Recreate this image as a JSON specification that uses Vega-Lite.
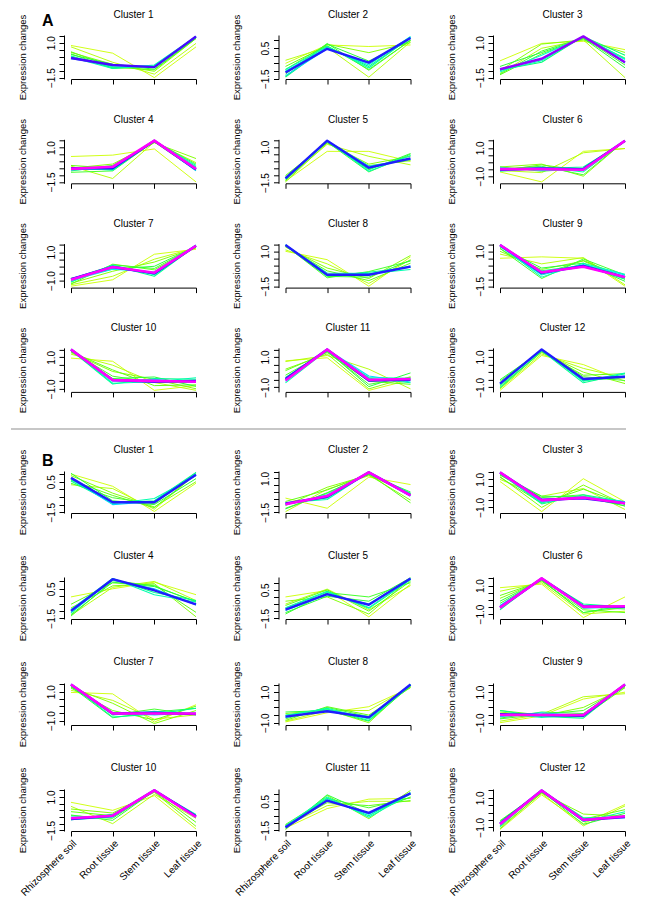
{
"$schema":"https://vega.github.io/schema/vega-lite/v6.json",
"background":"white",
"padding":{"left":10,"top":10,"right":5,"bottom":5},
"config":{
 "view":{"stroke":null},
 "font":"Liberation Sans",
 "axis":{"domainColor":"#000","tickColor":"#000","labelColor":"#000","titleColor":"#000","grid":false,"labelFont":"Liberation Sans","titleFont":"Liberation Sans","labelFontSize":10,"titleFontSize":9.5,"titleFontWeight":"normal","tickSize":5,"domainWidth":1,"tickWidth":1},
 "axisY":{"labelAngle":-90,"offset":7,"labelPadding":3,"titlePadding":19,"labelAlign":"center","labelBaseline":"bottom"},
 "axisX":{"offset":0,"labelFontSize":10},
 "title":{"fontSize":10,"fontWeight":"normal","font":"Liberation Sans","offset":-6,"color":"#000"}
},
"data":{"values":[
{"p":"A1","m":0.32,"a":0.8,"b":0.25,"c":-1.5,"d":0.7},
{"p":"A1","m":0.36,"a":0.7,"b":-0.4,"c":-1.25,"d":0.95},
{"p":"A1","m":0.42,"a":0.3,"b":-0.55,"c":-1.05,"d":1.3},
{"p":"A1","m":0.46,"a":0.35,"b":-0.75,"c":-0.95,"d":1.3},
{"p":"A1","m":0.5,"a":0.2,"b":-0.85,"c":-0.7,"d":1.35},
{"p":"A1","m":0.53,"a":0.15,"b":-0.55,"c":-0.9,"d":1.35},
{"p":"A1","m":0.58,"a":0.05,"b":-0.8,"c":-0.65,"d":1.4},
{"p":"A1","m":0.63,"a":-0.05,"b":-0.85,"c":-0.6,"d":1.45},
{"p":"A1","m":0.66,"a":0.0,"b":-0.7,"c":-0.75,"d":1.45},
{"p":"A1","m":0.75,"a":-0.15,"b":-0.6,"c":-0.7,"d":1.45},
{"p":"A1","m":0.88,"a":-0.1,"b":-0.6,"c":-0.75,"d":1.45},
{"p":"A2","m":0.32,"a":-0.5,"b":0.7,"c":0.6,"d":0.7},
{"p":"A2","m":0.36,"a":-0.3,"b":0.55,"c":-1.4,"d":0.9},
{"p":"A2","m":0.42,"a":-0.9,"b":0.75,"c":0.2,"d":0.85},
{"p":"A2","m":0.46,"a":-0.7,"b":0.65,"c":-0.9,"d":1.0},
{"p":"A2","m":0.5,"a":-1.2,"b":0.8,"c":-0.95,"d":1.0},
{"p":"A2","m":0.53,"a":-1.35,"b":0.75,"c":-0.35,"d":1.0},
{"p":"A2","m":0.58,"a":-1.4,"b":0.6,"c":-0.7,"d":1.15},
{"p":"A2","m":0.63,"a":-0.9,"b":0.6,"c":-0.8,"d":1.2},
{"p":"A2","m":0.66,"a":-1.0,"b":0.5,"c":-0.6,"d":1.25},
{"p":"A2","m":0.74,"a":-1.3,"b":0.45,"c":-0.5,"d":1.2},
{"p":"A2","m":0.82,"a":-1.1,"b":0.45,"c":-0.45,"d":1.15},
{"p":"A3","m":0.32,"a":-0.3,"b":0.95,"c":1.1,"d":0.5},
{"p":"A3","m":0.36,"a":-1.2,"b":0.6,"c":1.2,"d":-1.5},
{"p":"A3","m":0.42,"a":-1.0,"b":0.9,"c":1.2,"d":0.3},
{"p":"A3","m":0.46,"a":-1.3,"b":0.2,"c":1.3,"d":-0.1},
{"p":"A3","m":0.5,"a":-1.25,"b":0.4,"c":1.35,"d":-0.6},
{"p":"A3","m":0.53,"a":-0.7,"b":0.3,"c":1.3,"d":-0.8},
{"p":"A3","m":0.58,"a":-0.95,"b":-0.4,"c":1.45,"d":0.1},
{"p":"A3","m":0.63,"a":-1.0,"b":-0.3,"c":1.45,"d":-0.15},
{"p":"A3","m":0.66,"a":-1.1,"b":0.1,"c":1.4,"d":-0.2},
{"p":"A3","m":0.76,"a":-0.9,"b":-0.2,"c":1.45,"d":-0.45},
{"p":"A3","m":0.92,"a":-0.9,"b":-0.15,"c":1.45,"d":-0.4},
{"p":"A4","m":0.32,"a":0.35,"b":0.45,"c":0.9,"d":-1.5},
{"p":"A4","m":0.36,"a":-0.35,"b":-1.25,"c":1.4,"d":-0.1},
{"p":"A4","m":0.42,"a":-0.5,"b":-0.2,"c":1.35,"d":0.2},
{"p":"A4","m":0.46,"a":-0.3,"b":-0.5,"c":1.4,"d":-0.65},
{"p":"A4","m":0.5,"a":-0.8,"b":-0.7,"c":1.45,"d":-0.2},
{"p":"A4","m":0.53,"a":-0.7,"b":-0.3,"c":1.45,"d":-0.45},
{"p":"A4","m":0.6,"a":-0.6,"b":-0.6,"c":1.5,"d":-0.3},
{"p":"A4","m":0.63,"a":-0.45,"b":-0.65,"c":1.5,"d":-0.4},
{"p":"A4","m":0.7,"a":-0.65,"b":-0.45,"c":1.5,"d":-0.7},
{"p":"A4","m":0.82,"a":-0.5,"b":-0.5,"c":1.5,"d":-0.6},
{"p":"A4","m":0.97,"a":-0.55,"b":-0.4,"c":1.5,"d":-0.55},
{"p":"A5","m":0.32,"a":-1.4,"b":0.7,"c":0.7,"d":0.0},
{"p":"A5","m":0.36,"a":-1.3,"b":1.2,"c":0.35,"d":-0.25},
{"p":"A5","m":0.42,"a":-1.45,"b":1.3,"c":-0.2,"d":0.35},
{"p":"A5","m":0.46,"a":-1.0,"b":1.3,"c":-0.3,"d":0.05},
{"p":"A5","m":0.5,"a":-1.1,"b":1.35,"c":-0.75,"d":0.5},
{"p":"A5","m":0.53,"a":-1.35,"b":1.4,"c":-0.6,"d":0.55},
{"p":"A5","m":0.6,"a":-1.25,"b":1.4,"c":-0.55,"d":0.4},
{"p":"A5","m":0.63,"a":-1.15,"b":1.45,"c":-0.7,"d":0.4},
{"p":"A5","m":0.7,"a":-1.2,"b":1.45,"c":-0.35,"d":0.15},
{"p":"A5","m":0.82,"a":-1.2,"b":1.45,"c":-0.45,"d":0.2},
{"p":"A6","m":0.32,"a":-0.7,"b":-1.4,"c":0.75,"d":0.95},
{"p":"A6","m":0.36,"a":-0.6,"b":-0.75,"c":0.65,"d":0.95},
{"p":"A6","m":0.42,"a":-0.35,"b":-0.15,"c":-1.0,"d":1.5},
{"p":"A6","m":0.46,"a":-0.6,"b":-0.2,"c":-0.6,"d":1.45},
{"p":"A6","m":0.5,"a":-0.5,"b":-0.3,"c":-0.9,"d":1.5},
{"p":"A6","m":0.53,"a":-0.35,"b":-0.65,"c":-0.45,"d":1.45},
{"p":"A6","m":0.6,"a":-0.65,"b":-0.45,"c":-0.35,"d":1.45},
{"p":"A6","m":0.63,"a":-0.6,"b":-0.35,"c":-0.7,"d":1.5},
{"p":"A6","m":0.7,"a":-0.4,"b":-0.6,"c":-0.5,"d":1.5},
{"p":"A6","m":0.82,"a":-0.55,"b":-0.45,"c":-0.5,"d":1.5},
{"p":"A6","m":0.97,"a":-0.5,"b":-0.5,"c":-0.55,"d":1.5},
{"p":"A7","m":0.32,"a":-1.4,"b":-0.95,"c":0.85,"d":1.2},
{"p":"A7","m":0.36,"a":-1.3,"b":-0.7,"c":0.5,"d":1.3},
{"p":"A7","m":0.42,"a":-1.2,"b":-0.35,"c":0.3,"d":1.3},
{"p":"A7","m":0.46,"a":-1.25,"b":0.15,"c":-0.25,"d":1.35},
{"p":"A7","m":0.5,"a":-1.1,"b":0.1,"c":-0.15,"d":1.4},
{"p":"A7","m":0.53,"a":-0.85,"b":-0.2,"c":0.0,"d":1.4},
{"p":"A7","m":0.6,"a":-0.9,"b":0.05,"c":-0.7,"d":1.45},
{"p":"A7","m":0.63,"a":-1.1,"b":0.1,"c":-0.6,"d":1.45},
{"p":"A7","m":0.7,"a":-1.0,"b":-0.2,"c":-0.4,"d":1.5},
{"p":"A7","m":0.82,"a":-0.9,"b":-0.05,"c":-0.5,"d":1.45},
{"p":"A7","m":0.97,"a":-0.95,"b":-0.05,"c":-0.45,"d":1.45},
{"p":"A8","m":0.32,"a":1.0,"b":0.4,"c":-1.5,"d":0.6},
{"p":"A8","m":0.36,"a":1.1,"b":0.1,"c":-1.3,"d":0.4},
{"p":"A8","m":0.42,"a":1.3,"b":-0.2,"c":-0.95,"d":0.7},
{"p":"A8","m":0.46,"a":1.35,"b":-0.4,"c":-1.1,"d":0.15},
{"p":"A8","m":0.5,"a":1.4,"b":-0.9,"c":-0.45,"d":0.3},
{"p":"A8","m":0.53,"a":1.4,"b":-0.8,"c":-0.85,"d":0.35},
{"p":"A8","m":0.6,"a":1.45,"b":-0.75,"c":-0.5,"d":-0.15},
{"p":"A8","m":0.63,"a":1.45,"b":-0.55,"c":-0.6,"d":-0.3},
{"p":"A8","m":0.7,"a":1.45,"b":-0.7,"c":-0.65,"d":-0.05},
{"p":"A8","m":0.82,"a":1.45,"b":-0.68,"c":-0.68,"d":-0.1},
{"p":"A9","m":0.32,"a":0.5,"b":0.6,"c":0.5,"d":-1.5},
{"p":"A9","m":0.36,"a":0.8,"b":0.1,"c":0.55,"d":-1.4},
{"p":"A9","m":0.42,"a":1.0,"b":-0.3,"c":0.3,"d":-1.0},
{"p":"A9","m":0.46,"a":1.2,"b":-0.65,"c":0.35,"d":-0.9},
{"p":"A9","m":0.5,"a":1.2,"b":-0.95,"c":0.45,"d":-0.7},
{"p":"A9","m":0.53,"a":1.3,"b":-0.2,"c":0.15,"d":-1.15},
{"p":"A9","m":0.6,"a":1.4,"b":-0.4,"c":0.0,"d":-1.0},
{"p":"A9","m":0.63,"a":1.4,"b":-0.85,"c":0.15,"d":-0.65},
{"p":"A9","m":0.7,"a":1.35,"b":-0.7,"c":0.05,"d":-0.7},
{"p":"A9","m":0.82,"a":1.45,"b":-0.55,"c":-0.05,"d":-0.85},
{"p":"A9","m":0.97,"a":1.45,"b":-0.5,"c":-0.1,"d":-0.85},
{"p":"A10","m":0.32,"a":0.95,"b":0.75,"c":-1.1,"d":-0.8},
{"p":"A10","m":0.36,"a":1.2,"b":0.5,"c":-0.6,"d":-1.1},
{"p":"A10","m":0.42,"a":1.3,"b":0.1,"c":-0.4,"d":-1.0},
{"p":"A10","m":0.46,"a":1.35,"b":0.2,"c":-0.8,"d":-0.75},
{"p":"A10","m":0.5,"a":1.4,"b":-0.2,"c":-0.6,"d":-0.6},
{"p":"A10","m":0.53,"a":1.45,"b":-0.35,"c":-0.25,"d":-0.85},
{"p":"A10","m":0.6,"a":1.45,"b":-0.7,"c":-0.35,"d":-0.4},
{"p":"A10","m":0.63,"a":1.5,"b":-0.65,"c":-0.55,"d":-0.3},
{"p":"A10","m":0.72,"a":1.5,"b":-0.5,"c":-0.4,"d":-0.6},
{"p":"A10","m":0.85,"a":1.5,"b":-0.45,"c":-0.55,"d":-0.5},
{"p":"A10","m":0.97,"a":1.5,"b":-0.45,"c":-0.5,"d":-0.55},
{"p":"A11","m":0.32,"a":0.75,"b":0.95,"c":-1.2,"d":-0.5},
{"p":"A11","m":0.36,"a":0.7,"b":1.1,"c":0.2,"d":-1.1},
{"p":"A11","m":0.42,"a":0.2,"b":1.2,"c":-1.1,"d":-0.3},
{"p":"A11","m":0.46,"a":0.1,"b":1.3,"c":-0.6,"d":-0.8},
{"p":"A11","m":0.5,"a":-0.2,"b":1.35,"c":-0.8,"d":-0.35},
{"p":"A11","m":0.53,"a":-0.4,"b":1.4,"c":-0.95,"d":-0.05},
{"p":"A11","m":0.6,"a":-0.35,"b":1.45,"c":-0.4,"d":-0.7},
{"p":"A11","m":0.63,"a":-0.7,"b":1.45,"c":-0.35,"d":-0.4},
{"p":"A11","m":0.72,"a":-0.6,"b":1.5,"c":-0.25,"d":-0.65},
{"p":"A11","m":0.85,"a":-0.45,"b":1.5,"c":-0.55,"d":-0.5},
{"p":"A11","m":0.97,"a":-0.55,"b":1.5,"c":-0.5,"d":-0.45},
{"p":"A12","m":0.32,"a":-1.2,"b":1.1,"c":0.5,"d":-0.6},
{"p":"A12","m":0.36,"a":-1.1,"b":1.2,"c":0.25,"d":-0.4},
{"p":"A12","m":0.42,"a":-0.9,"b":1.3,"c":0.0,"d":-0.75},
{"p":"A12","m":0.46,"a":-1.05,"b":1.35,"c":-0.2,"d":-0.1},
{"p":"A12","m":0.5,"a":-0.6,"b":1.45,"c":-0.3,"d":-0.55},
{"p":"A12","m":0.53,"a":-0.5,"b":1.4,"c":-0.55,"d":-0.35},
{"p":"A12","m":0.6,"a":-1.0,"b":1.4,"c":-0.7,"d":-0.1},
{"p":"A12","m":0.63,"a":-0.85,"b":1.5,"c":-0.6,"d":-0.05},
{"p":"A12","m":0.7,"a":-0.75,"b":1.5,"c":-0.5,"d":-0.25},
{"p":"A12","m":0.82,"a":-0.75,"b":1.5,"c":-0.45,"d":-0.3},
{"p":"B1","m":0.32,"a":1.0,"b":0.2,"c":-1.45,"d":0.4},
{"p":"B1","m":0.36,"a":0.3,"b":0.05,"c":-1.3,"d":1.0},
{"p":"B1","m":0.42,"a":0.9,"b":-0.25,"c":-1.15,"d":0.5},
{"p":"B1","m":0.46,"a":0.6,"b":-0.4,"c":-1.2,"d":1.0},
{"p":"B1","m":0.5,"a":0.4,"b":-0.55,"c":-0.95,"d":1.1},
{"p":"B1","m":0.53,"a":1.05,"b":-0.75,"c":-1.0,"d":0.7},
{"p":"B1","m":0.6,"a":0.55,"b":-0.9,"c":-0.75,"d":1.1},
{"p":"B1","m":0.63,"a":0.65,"b":-0.95,"c":-0.6,"d":0.9},
{"p":"B1","m":0.72,"a":0.7,"b":-1.0,"c":-0.8,"d":1.0},
{"p":"B1","m":0.82,"a":0.75,"b":-0.85,"c":-0.85,"d":0.95},
{"p":"B2","m":0.32,"a":-0.45,"b":-1.2,"c":1.1,"d":0.55},
{"p":"B2","m":0.36,"a":-1.45,"b":0.2,"c":1.2,"d":-0.1},
{"p":"B2","m":0.42,"a":-1.0,"b":0.35,"c":1.25,"d":-0.6},
{"p":"B2","m":0.46,"a":-0.7,"b":0.15,"c":1.35,"d":-0.8},
{"p":"B2","m":0.5,"a":-1.2,"b":-0.1,"c":1.4,"d":-0.1},
{"p":"B2","m":0.53,"a":-1.25,"b":-0.05,"c":1.3,"d":0.0},
{"p":"B2","m":0.6,"a":-0.85,"b":-0.45,"c":1.45,"d":-0.15},
{"p":"B2","m":0.63,"a":-0.8,"b":-0.55,"c":1.45,"d":-0.1},
{"p":"B2","m":0.72,"a":-0.95,"b":-0.2,"c":1.45,"d":-0.3},
{"p":"B2","m":0.85,"a":-0.85,"b":-0.35,"c":1.45,"d":-0.25},
{"p":"B2","m":0.97,"a":-0.9,"b":-0.3,"c":1.45,"d":-0.25},
{"p":"B3","m":0.32,"a":0.85,"b":-1.3,"c":1.05,"d":-0.6},
{"p":"B3","m":0.36,"a":1.0,"b":-0.2,"c":0.35,"d":-1.15},
{"p":"B3","m":0.42,"a":1.2,"b":-1.0,"c":0.6,"d":-0.8},
{"p":"B3","m":0.46,"a":1.15,"b":-0.7,"c":0.3,"d":-0.75},
{"p":"B3","m":0.5,"a":1.3,"b":-0.3,"c":-0.1,"d":-0.9},
{"p":"B3","m":0.53,"a":1.35,"b":-0.2,"c":-0.25,"d":-0.9},
{"p":"B3","m":0.6,"a":1.45,"b":-0.75,"c":-0.1,"d":-0.6},
{"p":"B3","m":0.63,"a":1.45,"b":-0.65,"c":-0.2,"d":-0.6},
{"p":"B3","m":0.72,"a":1.5,"b":-0.6,"c":-0.3,"d":-0.6},
{"p":"B3","m":0.85,"a":1.5,"b":-0.45,"c":-0.35,"d":-0.7},
{"p":"B3","m":0.97,"a":1.5,"b":-0.5,"c":-0.3,"d":-0.7},
{"p":"B4","m":0.32,"a":-0.05,"b":0.5,"c":0.95,"d":0.1},
{"p":"B4","m":0.36,"a":-1.3,"b":0.6,"c":1.0,"d":-0.3},
{"p":"B4","m":0.42,"a":-0.8,"b":0.7,"c":0.85,"d":-1.4},
{"p":"B4","m":0.46,"a":-0.55,"b":0.9,"c":0.75,"d":-1.1},
{"p":"B4","m":0.5,"a":-1.35,"b":1.05,"c":0.7,"d":-0.4},
{"p":"B4","m":0.53,"a":-1.25,"b":0.95,"c":0.65,"d":-0.35},
{"p":"B4","m":0.6,"a":-1.15,"b":1.2,"c":0.25,"d":-0.3},
{"p":"B4","m":0.63,"a":-0.9,"b":1.2,"c":0.1,"d":-0.4},
{"p":"B4","m":0.72,"a":-1.1,"b":1.1,"c":0.5,"d":-0.6},
{"p":"B4","m":0.82,"a":-1.0,"b":1.15,"c":0.4,"d":-0.55},
{"p":"B5","m":0.32,"a":0.0,"b":0.45,"c":-1.4,"d":0.9},
{"p":"B5","m":0.36,"a":-0.5,"b":0.55,"c":-0.9,"d":0.8},
{"p":"B5","m":0.42,"a":-0.3,"b":0.0,"c":-1.2,"d":1.3},
{"p":"B5","m":0.46,"a":-0.6,"b":0.5,"c":-1.0,"d":1.1},
{"p":"B5","m":0.5,"a":-1.2,"b":0.3,"c":0.0,"d":1.0},
{"p":"B5","m":0.53,"a":-1.1,"b":0.05,"c":-0.3,"d":1.35},
{"p":"B5","m":0.6,"a":-0.75,"b":0.4,"c":-0.8,"d":1.2},
{"p":"B5","m":0.63,"a":-0.8,"b":0.35,"c":-0.75,"d":1.25},
{"p":"B5","m":0.72,"a":-0.95,"b":0.15,"c":-0.5,"d":1.3},
{"p":"B5","m":0.82,"a":-0.9,"b":0.2,"c":-0.55,"d":1.3},
{"p":"B6","m":0.32,"a":0.85,"b":1.1,"c":-1.25,"d":0.2},
{"p":"B6","m":0.36,"a":0.6,"b":1.2,"c":-1.0,"d":-0.8},
{"p":"B6","m":0.42,"a":0.1,"b":1.35,"c":-0.9,"d":-0.55},
{"p":"B6","m":0.46,"a":0.3,"b":1.3,"c":-0.7,"d":-0.9},
{"p":"B6","m":0.5,"a":-0.25,"b":1.4,"c":-0.5,"d":-0.65},
{"p":"B6","m":0.53,"a":-0.1,"b":1.4,"c":-0.9,"d":-0.4},
{"p":"B6","m":0.6,"a":-0.7,"b":1.5,"c":-0.3,"d":-0.5},
{"p":"B6","m":0.63,"a":-0.45,"b":1.5,"c":-0.6,"d":-0.45},
{"p":"B6","m":0.72,"a":-0.4,"b":1.5,"c":-0.55,"d":-0.55},
{"p":"B6","m":0.85,"a":-0.55,"b":1.5,"c":-0.45,"d":-0.5},
{"p":"B6","m":0.97,"a":-0.55,"b":1.5,"c":-0.5,"d":-0.45},
{"p":"B7","m":0.32,"a":0.95,"b":0.85,"c":-1.1,"d":0.1},
{"p":"B7","m":0.36,"a":1.1,"b":0.4,"c":-0.9,"d":-0.6},
{"p":"B7","m":0.42,"a":1.3,"b":0.2,"c":-1.2,"d":-0.3},
{"p":"B7","m":0.46,"a":1.25,"b":-0.3,"c":-0.95,"d":0.0},
{"p":"B7","m":0.5,"a":1.4,"b":-0.6,"c":-0.2,"d":-0.6},
{"p":"B7","m":0.53,"a":1.35,"b":-0.8,"c":-0.4,"d":-0.15},
{"p":"B7","m":0.6,"a":1.45,"b":-0.75,"c":-0.55,"d":-0.15},
{"p":"B7","m":0.63,"a":1.5,"b":-0.6,"c":-0.35,"d":-0.55},
{"p":"B7","m":0.72,"a":1.5,"b":-0.45,"c":-0.6,"d":-0.45},
{"p":"B7","m":0.85,"a":1.5,"b":-0.5,"c":-0.45,"d":-0.55},
{"p":"B7","m":0.97,"a":1.5,"b":-0.5,"c":-0.5,"d":-0.5},
{"p":"B8","m":0.32,"a":-0.95,"b":-0.35,"c":0.05,"d":1.3},
{"p":"B8","m":0.36,"a":-0.9,"b":-0.2,"c":-0.2,"d":1.35},
{"p":"B8","m":0.42,"a":-0.4,"b":-0.15,"c":-1.0,"d":1.5},
{"p":"B8","m":0.46,"a":-0.85,"b":0.05,"c":-0.5,"d":1.3},
{"p":"B8","m":0.5,"a":-0.75,"b":0.0,"c":-0.6,"d":1.4},
{"p":"B8","m":0.53,"a":-0.3,"b":-0.2,"c":-0.9,"d":1.4},
{"p":"B8","m":0.6,"a":-0.5,"b":-0.1,"c":-0.85,"d":1.5},
{"p":"B8","m":0.63,"a":-0.55,"b":-0.05,"c":-0.75,"d":1.45},
{"p":"B8","m":0.72,"a":-0.65,"b":-0.2,"c":-0.6,"d":1.5},
{"p":"B8","m":0.82,"a":-0.6,"b":-0.25,"c":-0.65,"d":1.5},
{"p":"B9","m":0.32,"a":-1.0,"b":-0.55,"c":0.55,"d":1.0},
{"p":"B9","m":0.36,"a":-0.9,"b":-0.45,"c":0.7,"d":0.9},
{"p":"B9","m":0.42,"a":-0.3,"b":-0.55,"c":0.0,"d":1.3},
{"p":"B9","m":0.46,"a":-0.2,"b":-0.5,"c":-0.6,"d":1.3},
{"p":"B9","m":0.5,"a":-0.75,"b":-0.45,"c":-0.2,"d":1.4},
{"p":"B9","m":0.53,"a":-0.7,"b":-0.3,"c":-0.4,"d":1.4},
{"p":"B9","m":0.6,"a":-0.2,"b":-0.6,"c":-0.7,"d":1.5},
{"p":"B9","m":0.63,"a":-0.4,"b":-0.65,"c":-0.45,"d":1.5},
{"p":"B9","m":0.72,"a":-0.6,"b":-0.35,"c":-0.55,"d":1.5},
{"p":"B9","m":0.85,"a":-0.45,"b":-0.5,"c":-0.55,"d":1.5},
{"p":"B9","m":0.97,"a":-0.5,"b":-0.5,"c":-0.5,"d":1.5},
{"p":"B10","m":0.32,"a":0.6,"b":0.0,"c":1.1,"d":-1.4},
{"p":"B10","m":0.36,"a":0.3,"b":-1.0,"c":1.2,"d":-0.6},
{"p":"B10","m":0.42,"a":0.1,"b":-0.2,"c":1.35,"d":-1.2},
{"p":"B10","m":0.46,"a":-0.1,"b":-0.4,"c":1.4,"d":-0.9},
{"p":"B10","m":0.5,"a":-0.4,"b":-0.6,"c":1.45,"d":-0.45},
{"p":"B10","m":0.53,"a":-0.35,"b":-0.75,"c":1.45,"d":-0.35},
{"p":"B10","m":0.6,"a":-0.7,"b":-0.3,"c":1.5,"d":-0.55},
{"p":"B10","m":0.63,"a":-0.7,"b":-0.5,"c":1.5,"d":-0.3},
{"p":"B10","m":0.72,"a":-0.5,"b":-0.5,"c":1.5,"d":-0.5},
{"p":"B10","m":0.85,"a":-0.65,"b":-0.4,"c":1.5,"d":-0.45},
{"p":"B10","m":0.97,"a":-0.6,"b":-0.4,"c":1.5,"d":-0.5},
{"p":"B11","m":0.32,"a":-1.35,"b":0.0,"c":0.65,"d":0.7},
{"p":"B11","m":0.36,"a":-1.2,"b":0.2,"c":0.5,"d":0.5},
{"p":"B11","m":0.42,"a":-1.45,"b":0.9,"c":-0.7,"d":1.25},
{"p":"B11","m":0.46,"a":-1.15,"b":0.4,"c":0.2,"d":0.55},
{"p":"B11","m":0.5,"a":-1.1,"b":0.7,"c":0.05,"d":0.75},
{"p":"B11","m":0.53,"a":-1.4,"b":0.95,"c":-0.35,"d":0.8},
{"p":"B11","m":0.6,"a":-1.3,"b":0.7,"c":-0.5,"d":1.1},
{"p":"B11","m":0.63,"a":-1.2,"b":0.8,"c":-0.6,"d":1.0},
{"p":"B11","m":0.72,"a":-1.25,"b":0.6,"c":-0.4,"d":1.05},
{"p":"B11","m":0.82,"a":-1.3,"b":0.55,"c":-0.3,"d":1.05},
{"p":"B12","m":0.32,"a":-1.15,"b":1.2,"c":-0.75,"d":0.55},
{"p":"B12","m":0.36,"a":-1.0,"b":1.3,"c":-0.9,"d":0.45},
{"p":"B12","m":0.42,"a":-0.8,"b":1.35,"c":-0.1,"d":-0.25},
{"p":"B12","m":0.46,"a":-1.1,"b":1.35,"c":-0.45,"d":0.2},
{"p":"B12","m":0.5,"a":-0.55,"b":1.45,"c":-0.6,"d":-0.2},
{"p":"B12","m":0.53,"a":-0.6,"b":1.45,"c":-0.8,"d":-0.05},
{"p":"B12","m":0.6,"a":-0.9,"b":1.5,"c":-0.35,"d":-0.3},
{"p":"B12","m":0.63,"a":-0.95,"b":1.5,"c":-0.6,"d":0.05},
{"p":"B12","m":0.72,"a":-0.7,"b":1.5,"c":-0.45,"d":-0.35},
{"p":"B12","m":0.85,"a":-0.75,"b":1.5,"c":-0.5,"d":-0.3},
{"p":"B12","m":0.97,"a":-0.8,"b":1.5,"c":-0.5,"d":-0.25}
]},
"vconcat":[
{"title":{"text":"A","anchor":"start","fontSize":16,"fontWeight":"bold","dx":25,"dy":19,"offset":0},
 "concat":[
 {"title":"Cluster 1","width":125,"height":44,"transform":[{"filter":"datum.p=='A1'"},{"fold":["a","b","c","d"],"as":["t","v"]}],"mark":{"type":"line","strokeJoin":"round"},"encoding":{"x":{"field":"t","type":"ordinal","scale":{"type":"point","padding":0},"axis":{"title":null,"labels":false}},"y":{"field":"v","type":"quantitative","title":"Expression changes","scale":{"domain":[-1.6,1.55],"nice":false,"zero":false},"axis":{"values":[-1.5,-1,-0.5,0,0.5,1,1.5],"labelExpr":"datum.value==-1.5||datum.value==1?format(datum.value,'.1f'):''"}},"color":{"field":"m","type":"quantitative","scale":{"domain":[0.3,0.45,0.55,0.65,0.75,0.8,0.9,0.97],"range":["#D8FF00","#60FF00","#00FF40","#00FFC0","#00C8FF","#0020FF","#5000FF","#FF00FF"]},"legend":null},"strokeWidth":{"field":"m","type":"quantitative","scale":{"domain":[0.3,0.78,0.82,1],"range":[0.9,1.1,2.4,2.6]},"legend":null},"detail":{"field":"m","type":"quantitative"}}},
 {"title":"Cluster 2","width":125,"height":44,"transform":[{"filter":"datum.p=='A2'"},{"fold":["a","b","c","d"],"as":["t","v"]}],"mark":{"type":"line","strokeJoin":"round"},"encoding":{"x":{"field":"t","type":"ordinal","scale":{"type":"point","padding":0},"axis":{"title":null,"labels":false}},"y":{"field":"v","type":"quantitative","title":"Expression changes","scale":{"domain":[-1.52,1.35],"nice":false,"zero":false},"axis":{"values":[-1.5,-1,-0.5,0,0.5,1],"labelExpr":"datum.value==-1.5||datum.value==0.5?format(datum.value,'.1f'):''"}},"color":{"field":"m","type":"quantitative","scale":{"domain":[0.3,0.45,0.55,0.65,0.75,0.8,0.9,0.97],"range":["#D8FF00","#60FF00","#00FF40","#00FFC0","#00C8FF","#0020FF","#5000FF","#FF00FF"]},"legend":null},"strokeWidth":{"field":"m","type":"quantitative","scale":{"domain":[0.3,0.78,0.82,1],"range":[0.9,1.1,2.4,2.6]},"legend":null},"detail":{"field":"m","type":"quantitative"}}},
 {"title":"Cluster 3","width":125,"height":44,"transform":[{"filter":"datum.p=='A3'"},{"fold":["a","b","c","d"],"as":["t","v"]}],"mark":{"type":"line","strokeJoin":"round"},"encoding":{"x":{"field":"t","type":"ordinal","scale":{"type":"point","padding":0},"axis":{"title":null,"labels":false}},"y":{"field":"v","type":"quantitative","title":"Expression changes","scale":{"domain":[-1.6,1.55],"nice":false,"zero":false},"axis":{"values":[-1.5,-1,-0.5,0,0.5,1,1.5],"labelExpr":"datum.value==-1.5||datum.value==1?format(datum.value,'.1f'):''"}},"color":{"field":"m","type":"quantitative","scale":{"domain":[0.3,0.45,0.55,0.65,0.75,0.8,0.9,0.97],"range":["#D8FF00","#60FF00","#00FF40","#00FFC0","#00C8FF","#0020FF","#5000FF","#FF00FF"]},"legend":null},"strokeWidth":{"field":"m","type":"quantitative","scale":{"domain":[0.3,0.78,0.82,1],"range":[0.9,1.1,2.4,2.6]},"legend":null},"detail":{"field":"m","type":"quantitative"}}},
 {"title":"Cluster 4","width":125,"height":44,"transform":[{"filter":"datum.p=='A4'"},{"fold":["a","b","c","d"],"as":["t","v"]}],"mark":{"type":"line","strokeJoin":"round"},"encoding":{"x":{"field":"t","type":"ordinal","scale":{"type":"point","padding":0},"axis":{"title":null,"labels":false}},"y":{"field":"v","type":"quantitative","title":"Expression changes","scale":{"domain":[-1.6,1.6],"nice":false,"zero":false},"axis":{"values":[-1.5,-1,-0.5,0,0.5,1,1.5],"labelExpr":"datum.value==-1.5||datum.value==1?format(datum.value,'.1f'):''"}},"color":{"field":"m","type":"quantitative","scale":{"domain":[0.3,0.45,0.55,0.65,0.75,0.8,0.9,0.97],"range":["#D8FF00","#60FF00","#00FF40","#00FFC0","#00C8FF","#0020FF","#5000FF","#FF00FF"]},"legend":null},"strokeWidth":{"field":"m","type":"quantitative","scale":{"domain":[0.3,0.78,0.82,1],"range":[0.9,1.1,2.4,2.6]},"legend":null},"detail":{"field":"m","type":"quantitative"}}},
 {"title":"Cluster 5","width":125,"height":44,"transform":[{"filter":"datum.p=='A5'"},{"fold":["a","b","c","d"],"as":["t","v"]}],"mark":{"type":"line","strokeJoin":"round"},"encoding":{"x":{"field":"t","type":"ordinal","scale":{"type":"point","padding":0},"axis":{"title":null,"labels":false}},"y":{"field":"v","type":"quantitative","title":"Expression changes","scale":{"domain":[-1.55,1.55],"nice":false,"zero":false},"axis":{"values":[-1.5,-1,-0.5,0,0.5,1,1.5],"labelExpr":"datum.value==-1.5||datum.value==1?format(datum.value,'.1f'):''"}},"color":{"field":"m","type":"quantitative","scale":{"domain":[0.3,0.45,0.55,0.65,0.75,0.8,0.9,0.97],"range":["#D8FF00","#60FF00","#00FF40","#00FFC0","#00C8FF","#0020FF","#5000FF","#FF00FF"]},"legend":null},"strokeWidth":{"field":"m","type":"quantitative","scale":{"domain":[0.3,0.78,0.82,1],"range":[0.9,1.1,2.4,2.6]},"legend":null},"detail":{"field":"m","type":"quantitative"}}},
 {"title":"Cluster 6","width":125,"height":44,"transform":[{"filter":"datum.p=='A6'"},{"fold":["a","b","c","d"],"as":["t","v"]}],"mark":{"type":"line","strokeJoin":"round"},"encoding":{"x":{"field":"t","type":"ordinal","scale":{"type":"point","padding":0},"axis":{"title":null,"labels":false}},"y":{"field":"v","type":"quantitative","title":"Expression changes","scale":{"domain":[-1.5,1.6],"nice":false,"zero":false},"axis":{"values":[-1,-0.5,0,0.5,1,1.5],"labelExpr":"datum.value==-1||datum.value==1?format(datum.value,'.1f'):''"}},"color":{"field":"m","type":"quantitative","scale":{"domain":[0.3,0.45,0.55,0.65,0.75,0.8,0.9,0.97],"range":["#D8FF00","#60FF00","#00FF40","#00FFC0","#00C8FF","#0020FF","#5000FF","#FF00FF"]},"legend":null},"strokeWidth":{"field":"m","type":"quantitative","scale":{"domain":[0.3,0.78,0.82,1],"range":[0.9,1.1,2.4,2.6]},"legend":null},"detail":{"field":"m","type":"quantitative"}}},
 {"title":"Cluster 7","width":125,"height":44,"transform":[{"filter":"datum.p=='A7'"},{"fold":["a","b","c","d"],"as":["t","v"]}],"mark":{"type":"line","strokeJoin":"round"},"encoding":{"x":{"field":"t","type":"ordinal","scale":{"type":"point","padding":0},"axis":{"title":null,"labels":false}},"y":{"field":"v","type":"quantitative","title":"Expression changes","scale":{"domain":[-1.5,1.6],"nice":false,"zero":false},"axis":{"values":[-1,-0.5,0,0.5,1,1.5],"labelExpr":"datum.value==-1||datum.value==1?format(datum.value,'.1f'):''"}},"color":{"field":"m","type":"quantitative","scale":{"domain":[0.3,0.45,0.55,0.65,0.75,0.8,0.9,0.97],"range":["#D8FF00","#60FF00","#00FF40","#00FFC0","#00C8FF","#0020FF","#5000FF","#FF00FF"]},"legend":null},"strokeWidth":{"field":"m","type":"quantitative","scale":{"domain":[0.3,0.78,0.82,1],"range":[0.9,1.1,2.4,2.6]},"legend":null},"detail":{"field":"m","type":"quantitative"}}},
 {"title":"Cluster 8","width":125,"height":44,"transform":[{"filter":"datum.p=='A8'"},{"fold":["a","b","c","d"],"as":["t","v"]}],"mark":{"type":"line","strokeJoin":"round"},"encoding":{"x":{"field":"t","type":"ordinal","scale":{"type":"point","padding":0},"axis":{"title":null,"labels":false}},"y":{"field":"v","type":"quantitative","title":"Expression changes","scale":{"domain":[-1.6,1.55],"nice":false,"zero":false},"axis":{"values":[-1.5,-1,-0.5,0,0.5,1,1.5],"labelExpr":"datum.value==-1.5||datum.value==1?format(datum.value,'.1f'):''"}},"color":{"field":"m","type":"quantitative","scale":{"domain":[0.3,0.45,0.55,0.65,0.75,0.8,0.9,0.97],"range":["#D8FF00","#60FF00","#00FF40","#00FFC0","#00C8FF","#0020FF","#5000FF","#FF00FF"]},"legend":null},"strokeWidth":{"field":"m","type":"quantitative","scale":{"domain":[0.3,0.78,0.82,1],"range":[0.9,1.1,2.4,2.6]},"legend":null},"detail":{"field":"m","type":"quantitative"}}},
 {"title":"Cluster 9","width":125,"height":44,"transform":[{"filter":"datum.p=='A9'"},{"fold":["a","b","c","d"],"as":["t","v"]}],"mark":{"type":"line","strokeJoin":"round"},"encoding":{"x":{"field":"t","type":"ordinal","scale":{"type":"point","padding":0},"axis":{"title":null,"labels":false}},"y":{"field":"v","type":"quantitative","title":"Expression changes","scale":{"domain":[-1.6,1.55],"nice":false,"zero":false},"axis":{"values":[-1.5,-1,-0.5,0,0.5,1,1.5],"labelExpr":"datum.value==-1.5||datum.value==1?format(datum.value,'.1f'):''"}},"color":{"field":"m","type":"quantitative","scale":{"domain":[0.3,0.45,0.55,0.65,0.75,0.8,0.9,0.97],"range":["#D8FF00","#60FF00","#00FF40","#00FFC0","#00C8FF","#0020FF","#5000FF","#FF00FF"]},"legend":null},"strokeWidth":{"field":"m","type":"quantitative","scale":{"domain":[0.3,0.78,0.82,1],"range":[0.9,1.1,2.4,2.6]},"legend":null},"detail":{"field":"m","type":"quantitative"}}},
 {"title":"Cluster 10","width":125,"height":44,"transform":[{"filter":"datum.p=='A10'"},{"fold":["a","b","c","d"],"as":["t","v"]}],"mark":{"type":"line","strokeJoin":"round"},"encoding":{"x":{"field":"t","type":"ordinal","scale":{"type":"point","padding":0},"axis":{"title":null,"labels":false}},"y":{"field":"v","type":"quantitative","title":"Expression changes","scale":{"domain":[-1.2,1.6],"nice":false,"zero":false},"axis":{"values":[-1,-0.5,0,0.5,1,1.5],"labelExpr":"datum.value==-1||datum.value==1?format(datum.value,'.1f'):''"}},"color":{"field":"m","type":"quantitative","scale":{"domain":[0.3,0.45,0.55,0.65,0.75,0.8,0.9,0.97],"range":["#D8FF00","#60FF00","#00FF40","#00FFC0","#00C8FF","#0020FF","#5000FF","#FF00FF"]},"legend":null},"strokeWidth":{"field":"m","type":"quantitative","scale":{"domain":[0.3,0.78,0.82,1],"range":[0.9,1.1,2.4,2.6]},"legend":null},"detail":{"field":"m","type":"quantitative"}}},
 {"title":"Cluster 11","width":125,"height":44,"transform":[{"filter":"datum.p=='A11'"},{"fold":["a","b","c","d"],"as":["t","v"]}],"mark":{"type":"line","strokeJoin":"round"},"encoding":{"x":{"field":"t","type":"ordinal","scale":{"type":"point","padding":0},"axis":{"title":null,"labels":false}},"y":{"field":"v","type":"quantitative","title":"Expression changes","scale":{"domain":[-1.3,1.6],"nice":false,"zero":false},"axis":{"values":[-1,-0.5,0,0.5,1,1.5],"labelExpr":"datum.value==-1||datum.value==1?format(datum.value,'.1f'):''"}},"color":{"field":"m","type":"quantitative","scale":{"domain":[0.3,0.45,0.55,0.65,0.75,0.8,0.9,0.97],"range":["#D8FF00","#60FF00","#00FF40","#00FFC0","#00C8FF","#0020FF","#5000FF","#FF00FF"]},"legend":null},"strokeWidth":{"field":"m","type":"quantitative","scale":{"domain":[0.3,0.78,0.82,1],"range":[0.9,1.1,2.4,2.6]},"legend":null},"detail":{"field":"m","type":"quantitative"}}},
 {"title":"Cluster 12","width":125,"height":44,"transform":[{"filter":"datum.p=='A12'"},{"fold":["a","b","c","d"],"as":["t","v"]}],"mark":{"type":"line","strokeJoin":"round"},"encoding":{"x":{"field":"t","type":"ordinal","scale":{"type":"point","padding":0},"axis":{"title":null,"labels":false}},"y":{"field":"v","type":"quantitative","title":"Expression changes","scale":{"domain":[-1.3,1.6],"nice":false,"zero":false},"axis":{"values":[-1,-0.5,0,0.5,1,1.5],"labelExpr":"datum.value==-1||datum.value==1?format(datum.value,'.1f'):''"}},"color":{"field":"m","type":"quantitative","scale":{"domain":[0.3,0.45,0.55,0.65,0.75,0.8,0.9,0.97],"range":["#D8FF00","#60FF00","#00FF40","#00FFC0","#00C8FF","#0020FF","#5000FF","#FF00FF"]},"legend":null},"strokeWidth":{"field":"m","type":"quantitative","scale":{"domain":[0.3,0.78,0.82,1],"range":[0.9,1.1,2.4,2.6]},"legend":null},"detail":{"field":"m","type":"quantitative"}}}
 ],
 "columns":3,"spacing":{"row":60.3,"column":89.5},"bounds":"flush",
 "resolve":{"scale":{"x":"independent","y":"independent","color":"independent","strokeWidth":"independent"}}
},
{"data":{"values":[{}]},"width":555,"height":16,"mark":{"type":"rule","color":"#B4B4B4","strokeWidth":1.5},
 "encoding":{"x":{"datum":-60,"type":"quantitative","scale":{"domain":[0,555],"nice":false,"zero":false},"axis":null},"x2":{"datum":555},"y":{"datum":8,"type":"quantitative","scale":{"domain":[0,16],"nice":false},"axis":null}}},
{"title":{"text":"B","anchor":"start","fontSize":16,"fontWeight":"bold","dx":25,"dy":24,"offset":0},
 "concat":[
 {"title":"Cluster 1","width":125,"height":42,"transform":[{"filter":"datum.p=='B1'"},{"fold":["a","b","c","d"],"as":["t","v"]}],"mark":{"type":"line","strokeJoin":"round"},"encoding":{"x":{"field":"t","type":"ordinal","scale":{"type":"point","padding":0},"axis":{"title":null,"labels":false}},"y":{"field":"v","type":"quantitative","title":"Expression changes","scale":{"domain":[-1.55,1.2],"nice":false,"zero":false},"axis":{"values":[-1.5,-1,-0.5,0,0.5,1],"labelExpr":"datum.value==-1.5||datum.value==0.5?format(datum.value,'.1f'):''"}},"color":{"field":"m","type":"quantitative","scale":{"domain":[0.3,0.45,0.55,0.65,0.75,0.8,0.9,0.97],"range":["#D8FF00","#60FF00","#00FF40","#00FFC0","#00C8FF","#0020FF","#5000FF","#FF00FF"]},"legend":null},"strokeWidth":{"field":"m","type":"quantitative","scale":{"domain":[0.3,0.78,0.82,1],"range":[0.9,1.1,2.4,2.6]},"legend":null},"detail":{"field":"m","type":"quantitative"}}},
 {"title":"Cluster 2","width":125,"height":42,"transform":[{"filter":"datum.p=='B2'"},{"fold":["a","b","c","d"],"as":["t","v"]}],"mark":{"type":"line","strokeJoin":"round"},"encoding":{"x":{"field":"t","type":"ordinal","scale":{"type":"point","padding":0},"axis":{"title":null,"labels":false}},"y":{"field":"v","type":"quantitative","title":"Expression changes","scale":{"domain":[-1.55,1.55],"nice":false,"zero":false},"axis":{"values":[-1.5,-1,-0.5,0,0.5,1,1.5],"labelExpr":"datum.value==-1.5||datum.value==1?format(datum.value,'.1f'):''"}},"color":{"field":"m","type":"quantitative","scale":{"domain":[0.3,0.45,0.55,0.65,0.75,0.8,0.9,0.97],"range":["#D8FF00","#60FF00","#00FF40","#00FFC0","#00C8FF","#0020FF","#5000FF","#FF00FF"]},"legend":null},"strokeWidth":{"field":"m","type":"quantitative","scale":{"domain":[0.3,0.78,0.82,1],"range":[0.9,1.1,2.4,2.6]},"legend":null},"detail":{"field":"m","type":"quantitative"}}},
 {"title":"Cluster 3","width":125,"height":42,"transform":[{"filter":"datum.p=='B3'"},{"fold":["a","b","c","d"],"as":["t","v"]}],"mark":{"type":"line","strokeJoin":"round"},"encoding":{"x":{"field":"t","type":"ordinal","scale":{"type":"point","padding":0},"axis":{"title":null,"labels":false}},"y":{"field":"v","type":"quantitative","title":"Expression changes","scale":{"domain":[-1.4,1.6],"nice":false,"zero":false},"axis":{"values":[-1,-0.5,0,0.5,1,1.5],"labelExpr":"datum.value==-1||datum.value==1?format(datum.value,'.1f'):''"}},"color":{"field":"m","type":"quantitative","scale":{"domain":[0.3,0.45,0.55,0.65,0.75,0.8,0.9,0.97],"range":["#D8FF00","#60FF00","#00FF40","#00FFC0","#00C8FF","#0020FF","#5000FF","#FF00FF"]},"legend":null},"strokeWidth":{"field":"m","type":"quantitative","scale":{"domain":[0.3,0.78,0.82,1],"range":[0.9,1.1,2.4,2.6]},"legend":null},"detail":{"field":"m","type":"quantitative"}}},
 {"title":"Cluster 4","width":125,"height":42,"transform":[{"filter":"datum.p=='B4'"},{"fold":["a","b","c","d"],"as":["t","v"]}],"mark":{"type":"line","strokeJoin":"round"},"encoding":{"x":{"field":"t","type":"ordinal","scale":{"type":"point","padding":0},"axis":{"title":null,"labels":false}},"y":{"field":"v","type":"quantitative","title":"Expression changes","scale":{"domain":[-1.55,1.3],"nice":false,"zero":false},"axis":{"values":[-1.5,-1,-0.5,0,0.5,1],"labelExpr":"datum.value==-1.5||datum.value==0.5?format(datum.value,'.1f'):''"}},"color":{"field":"m","type":"quantitative","scale":{"domain":[0.3,0.45,0.55,0.65,0.75,0.8,0.9,0.97],"range":["#D8FF00","#60FF00","#00FF40","#00FFC0","#00C8FF","#0020FF","#5000FF","#FF00FF"]},"legend":null},"strokeWidth":{"field":"m","type":"quantitative","scale":{"domain":[0.3,0.78,0.82,1],"range":[0.9,1.1,2.4,2.6]},"legend":null},"detail":{"field":"m","type":"quantitative"}}},
 {"title":"Cluster 5","width":125,"height":42,"transform":[{"filter":"datum.p=='B5'"},{"fold":["a","b","c","d"],"as":["t","v"]}],"mark":{"type":"line","strokeJoin":"round"},"encoding":{"x":{"field":"t","type":"ordinal","scale":{"type":"point","padding":0},"axis":{"title":null,"labels":false}},"y":{"field":"v","type":"quantitative","title":"Expression changes","scale":{"domain":[-1.55,1.4],"nice":false,"zero":false},"axis":{"values":[-1.5,-1,-0.5,0,0.5,1],"labelExpr":"datum.value==-1.5||datum.value==0.5?format(datum.value,'.1f'):''"}},"color":{"field":"m","type":"quantitative","scale":{"domain":[0.3,0.45,0.55,0.65,0.75,0.8,0.9,0.97],"range":["#D8FF00","#60FF00","#00FF40","#00FFC0","#00C8FF","#0020FF","#5000FF","#FF00FF"]},"legend":null},"strokeWidth":{"field":"m","type":"quantitative","scale":{"domain":[0.3,0.78,0.82,1],"range":[0.9,1.1,2.4,2.6]},"legend":null},"detail":{"field":"m","type":"quantitative"}}},
 {"title":"Cluster 6","width":125,"height":42,"transform":[{"filter":"datum.p=='B6'"},{"fold":["a","b","c","d"],"as":["t","v"]}],"mark":{"type":"line","strokeJoin":"round"},"encoding":{"x":{"field":"t","type":"ordinal","scale":{"type":"point","padding":0},"axis":{"title":null,"labels":false}},"y":{"field":"v","type":"quantitative","title":"Expression changes","scale":{"domain":[-1.35,1.6],"nice":false,"zero":false},"axis":{"values":[-1,-0.5,0,0.5,1,1.5],"labelExpr":"datum.value==-1||datum.value==1?format(datum.value,'.1f'):''"}},"color":{"field":"m","type":"quantitative","scale":{"domain":[0.3,0.45,0.55,0.65,0.75,0.8,0.9,0.97],"range":["#D8FF00","#60FF00","#00FF40","#00FFC0","#00C8FF","#0020FF","#5000FF","#FF00FF"]},"legend":null},"strokeWidth":{"field":"m","type":"quantitative","scale":{"domain":[0.3,0.78,0.82,1],"range":[0.9,1.1,2.4,2.6]},"legend":null},"detail":{"field":"m","type":"quantitative"}}},
 {"title":"Cluster 7","width":125,"height":42,"transform":[{"filter":"datum.p=='B7'"},{"fold":["a","b","c","d"],"as":["t","v"]}],"mark":{"type":"line","strokeJoin":"round"},"encoding":{"x":{"field":"t","type":"ordinal","scale":{"type":"point","padding":0},"axis":{"title":null,"labels":false}},"y":{"field":"v","type":"quantitative","title":"Expression changes","scale":{"domain":[-1.3,1.6],"nice":false,"zero":false},"axis":{"values":[-1,-0.5,0,0.5,1,1.5],"labelExpr":"datum.value==-1||datum.value==1?format(datum.value,'.1f'):''"}},"color":{"field":"m","type":"quantitative","scale":{"domain":[0.3,0.45,0.55,0.65,0.75,0.8,0.9,0.97],"range":["#D8FF00","#60FF00","#00FF40","#00FFC0","#00C8FF","#0020FF","#5000FF","#FF00FF"]},"legend":null},"strokeWidth":{"field":"m","type":"quantitative","scale":{"domain":[0.3,0.78,0.82,1],"range":[0.9,1.1,2.4,2.6]},"legend":null},"detail":{"field":"m","type":"quantitative"}}},
 {"title":"Cluster 8","width":125,"height":42,"transform":[{"filter":"datum.p=='B8'"},{"fold":["a","b","c","d"],"as":["t","v"]}],"mark":{"type":"line","strokeJoin":"round"},"encoding":{"x":{"field":"t","type":"ordinal","scale":{"type":"point","padding":0},"axis":{"title":null,"labels":false}},"y":{"field":"v","type":"quantitative","title":"Expression changes","scale":{"domain":[-1.15,1.6],"nice":false,"zero":false},"axis":{"values":[-1,-0.5,0,0.5,1,1.5],"labelExpr":"datum.value==-1||datum.value==1?format(datum.value,'.1f'):''"}},"color":{"field":"m","type":"quantitative","scale":{"domain":[0.3,0.45,0.55,0.65,0.75,0.8,0.9,0.97],"range":["#D8FF00","#60FF00","#00FF40","#00FFC0","#00C8FF","#0020FF","#5000FF","#FF00FF"]},"legend":null},"strokeWidth":{"field":"m","type":"quantitative","scale":{"domain":[0.3,0.78,0.82,1],"range":[0.9,1.1,2.4,2.6]},"legend":null},"detail":{"field":"m","type":"quantitative"}}},
 {"title":"Cluster 9","width":125,"height":42,"transform":[{"filter":"datum.p=='B9'"},{"fold":["a","b","c","d"],"as":["t","v"]}],"mark":{"type":"line","strokeJoin":"round"},"encoding":{"x":{"field":"t","type":"ordinal","scale":{"type":"point","padding":0},"axis":{"title":null,"labels":false}},"y":{"field":"v","type":"quantitative","title":"Expression changes","scale":{"domain":[-1.15,1.6],"nice":false,"zero":false},"axis":{"values":[-1,-0.5,0,0.5,1,1.5],"labelExpr":"datum.value==-1||datum.value==1?format(datum.value,'.1f'):''"}},"color":{"field":"m","type":"quantitative","scale":{"domain":[0.3,0.45,0.55,0.65,0.75,0.8,0.9,0.97],"range":["#D8FF00","#60FF00","#00FF40","#00FFC0","#00C8FF","#0020FF","#5000FF","#FF00FF"]},"legend":null},"strokeWidth":{"field":"m","type":"quantitative","scale":{"domain":[0.3,0.78,0.82,1],"range":[0.9,1.1,2.4,2.6]},"legend":null},"detail":{"field":"m","type":"quantitative"}}},
 {"title":"Cluster 10","width":125,"height":42,"transform":[{"filter":"datum.p=='B10'"},{"fold":["a","b","c","d"],"as":["t","v"]}],"mark":{"type":"line","strokeJoin":"round"},"encoding":{"x":{"field":"t","type":"ordinal","scale":{"type":"point","padding":0},"axis":{"title":null,"labels":true,"labelAngle":-45,"labelAlign":"right","labelBaseline":"top","labelExpr":"datum.value=='a'?'Rhizosphere soil':datum.value=='b'?'Root tissue':datum.value=='c'?'Stem tissue':'Leaf tissue'"}},"y":{"field":"v","type":"quantitative","title":"Expression changes","scale":{"domain":[-1.55,1.6],"nice":false,"zero":false},"axis":{"values":[-1.5,-1,-0.5,0,0.5,1,1.5],"labelExpr":"datum.value==-1.5||datum.value==1?format(datum.value,'.1f'):''"}},"color":{"field":"m","type":"quantitative","scale":{"domain":[0.3,0.45,0.55,0.65,0.75,0.8,0.9,0.97],"range":["#D8FF00","#60FF00","#00FF40","#00FFC0","#00C8FF","#0020FF","#5000FF","#FF00FF"]},"legend":null},"strokeWidth":{"field":"m","type":"quantitative","scale":{"domain":[0.3,0.78,0.82,1],"range":[0.9,1.1,2.4,2.6]},"legend":null},"detail":{"field":"m","type":"quantitative"}}},
 {"title":"Cluster 11","width":125,"height":42,"transform":[{"filter":"datum.p=='B11'"},{"fold":["a","b","c","d"],"as":["t","v"]}],"mark":{"type":"line","strokeJoin":"round"},"encoding":{"x":{"field":"t","type":"ordinal","scale":{"type":"point","padding":0},"axis":{"title":null,"labels":true,"labelAngle":-45,"labelAlign":"right","labelBaseline":"top","labelExpr":"datum.value=='a'?'Rhizosphere soil':datum.value=='b'?'Root tissue':datum.value=='c'?'Stem tissue':'Leaf tissue'"}},"y":{"field":"v","type":"quantitative","title":"Expression changes","scale":{"domain":[-1.55,1.35],"nice":false,"zero":false},"axis":{"values":[-1.5,-1,-0.5,0,0.5,1],"labelExpr":"datum.value==-1.5||datum.value==0.5?format(datum.value,'.1f'):''"}},"color":{"field":"m","type":"quantitative","scale":{"domain":[0.3,0.45,0.55,0.65,0.75,0.8,0.9,0.97],"range":["#D8FF00","#60FF00","#00FF40","#00FFC0","#00C8FF","#0020FF","#5000FF","#FF00FF"]},"legend":null},"strokeWidth":{"field":"m","type":"quantitative","scale":{"domain":[0.3,0.78,0.82,1],"range":[0.9,1.1,2.4,2.6]},"legend":null},"detail":{"field":"m","type":"quantitative"}}},
 {"title":"Cluster 12","width":125,"height":42,"transform":[{"filter":"datum.p=='B12'"},{"fold":["a","b","c","d"],"as":["t","v"]}],"mark":{"type":"line","strokeJoin":"round"},"encoding":{"x":{"field":"t","type":"ordinal","scale":{"type":"point","padding":0},"axis":{"title":null,"labels":true,"labelAngle":-45,"labelAlign":"right","labelBaseline":"top","labelExpr":"datum.value=='a'?'Rhizosphere soil':datum.value=='b'?'Root tissue':datum.value=='c'?'Stem tissue':'Leaf tissue'"}},"y":{"field":"v","type":"quantitative","title":"Expression changes","scale":{"domain":[-1.25,1.6],"nice":false,"zero":false},"axis":{"values":[-1,-0.5,0,0.5,1,1.5],"labelExpr":"datum.value==-1||datum.value==1?format(datum.value,'.1f'):''"}},"color":{"field":"m","type":"quantitative","scale":{"domain":[0.3,0.45,0.55,0.65,0.75,0.8,0.9,0.97],"range":["#D8FF00","#60FF00","#00FF40","#00FFC0","#00C8FF","#0020FF","#5000FF","#FF00FF"]},"legend":null},"strokeWidth":{"field":"m","type":"quantitative","scale":{"domain":[0.3,0.78,0.82,1],"range":[0.9,1.1,2.4,2.6]},"legend":null},"detail":{"field":"m","type":"quantitative"}}}
 ],
 "columns":3,"spacing":{"row":64,"column":89.5},"bounds":"flush",
 "resolve":{"scale":{"x":"independent","y":"independent","color":"independent","strokeWidth":"independent"}}
}
],
"spacing":8,
"resolve":{"scale":{"x":"independent","y":"independent","color":"independent","strokeWidth":"independent"}}
}
